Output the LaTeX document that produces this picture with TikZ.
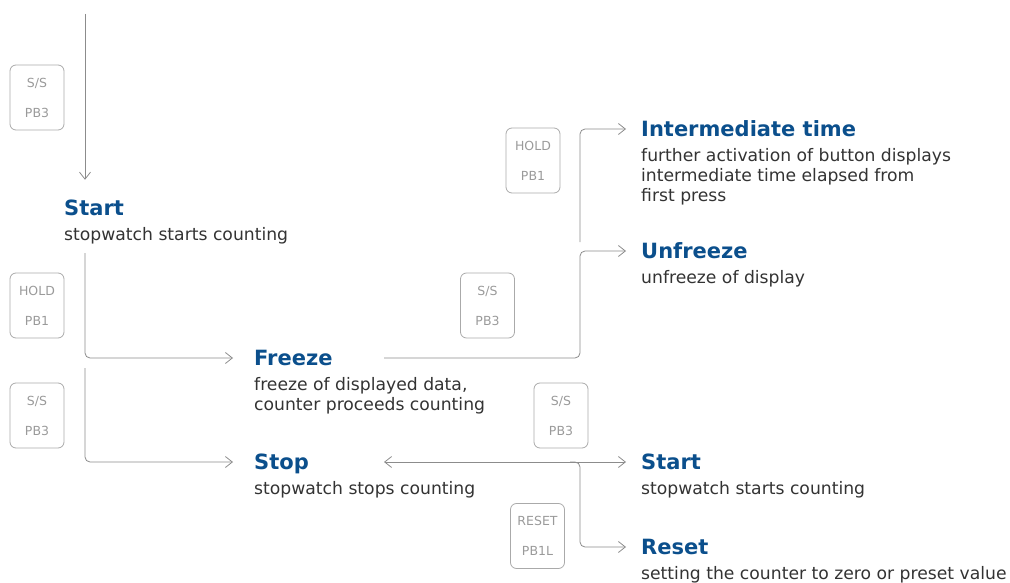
\documentclass[tikz,border=0pt]{standalone}
\usepackage{fontspec}
\setmainfont{DejaVu Sans}
\usetikzlibrary{arrows.meta,positioning}
\definecolor{stateblue}{HTML}{0B4F8C}
\definecolor{textgray}{HTML}{333333}
\definecolor{linegray}{HTML}{8C8C8C}
\definecolor{keygray}{HTML}{9A9A9A}
\definecolor{keyframe}{HTML}{AAAAAA}
\begin{document}
\begin{tikzpicture}[
    x=1pt, y=-1pt,
    >={Straight Barb[length=7pt,width=11pt]},
    state/.style={anchor=west, inner sep=0pt, text height=15pt, text depth=0pt,
      font=\fontsize{21}{25}\selectfont\bfseries, text=stateblue},
    desc/.style={below=11.5pt of #1.south west, anchor=north west, inner sep=0pt,
      align=left, font=\fontsize{17.2}{20}\selectfont, text=textgray},
    key/.style={draw=keyframe, line width=0.8pt, rounded corners=6pt,
      minimum width=54pt, minimum height=65pt, inner sep=0pt, align=center,
      font=\fontsize{12.5}{30}\selectfont, text=keygray},
    conn/.style={draw=linegray, line width=0.8pt, rounded corners=5pt, ->}]
  \useasboundingbox (0,0) rectangle (1010,583);
  % left column
  \node [key] (ss1) at (37,97.5) {S/S\\PB3};
  \node [state] (start1) at (64,208) {Start};
  \node [desc=start1] (start1d) {stopwatch starts counting};
  \node [key] (hold1) at (37,305.5) {HOLD\\PB1};
  \node [state] (freeze) at (254,358) {Freeze};
  \node [desc=freeze] (freezed) {freeze of displayed data,\\counter proceeds counting};
  \node [key] (ss2) at (37,415.5) {S/S\\PB3};
  \node [state] (stop) at (254,462) {Stop};
  \node [desc=stop] (stopd) {stopwatch stops counting};
  % right column
  \node [key] (hold2) at (533,160.5) {HOLD\\PB1};
  \node [state] (inter) at (641,129) {Intermediate time};
  \node [desc=inter] (interd) {further activation of button displays\\intermediate time elapsed from\\first press};
  \node [key] (ss3) at (487.5,305.5) {S/S\\PB3};
  \node [state] (unfreeze) at (641,251) {Unfreeze};
  \node [desc=unfreeze] (unfreezed) {unfreeze of display};
  \node [key] (ss4) at (561,415.5) {S/S\\PB3};
  \node [state] (start2) at (641,462) {Start};
  \node [desc=start2] (start2d) {stopwatch starts counting};
  \node [key] (reset) at (537.5,536) {RESET\\PB1L};
  \node [state] (resetst) at (641,547) {Reset};
  \node [desc=resetst] (resetd) {setting the counter to zero or preset value};

  \coordinate (top) at (85,14);
  \coordinate (frzout) at (384,358);
  \coordinate (fork) at (580,462);
  \draw [conn, shorten >=20.5pt] (top) -- (top |- start1.north);
  \draw [conn, shorten <=9pt, shorten >=21pt] (top |- start1d.south) |- (freeze.west);
  \draw [conn, shorten <=10pt, shorten >=21pt] (top |- freeze.west) |- (stop.west);
  \draw [conn, shorten >=15pt] (frzout) -| (fork |- unfreeze.west) -- (unfreeze.west);
  \draw [conn, shorten <=9pt, shorten >=15pt] (fork |- unfreeze.west) |- (inter.west);
  \draw [conn, <->, shorten >=15pt] (frzout |- stop.west) -- (start2.west);
  \draw [conn, shorten >=15pt] ([xshift=-10pt]fork) -- (fork) |- (resetst.west);
\end{tikzpicture}
\end{document}
